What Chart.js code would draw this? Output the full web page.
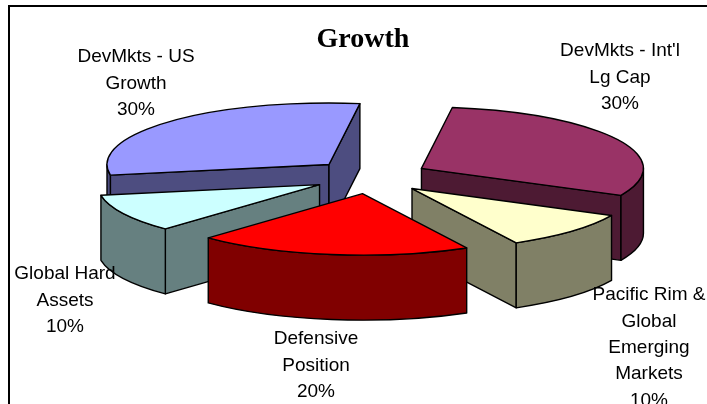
<!DOCTYPE html>
<html>
<head>
<meta charset="utf-8">
<title>Growth</title>
<script src="https://cdn.jsdelivr.net/npm/chart.js@4"></script>
<style>
    html, body { margin: 0; padding: 0; background: #fff; overflow: hidden; width: 707px; height: 404px; }
    #frame { position: absolute; left: 8px; top: 5px; width: 800px; height: 500px; border: 2px solid #000; }
    #growthChart { display: block; }
</style>
</head>
<body>
<div id="frame"><canvas id="growthChart" width="706" height="397"></canvas></div>
<script>
const categories = ["DevMkts - Int'l Lg Cap", "Pacific Rim & Global Emerging Markets", "Defensive Position", "Global Hard Assets", "DevMkts - US Growth"];
const labelLines = [
    ["DevMkts - Int'l", "Lg Cap"],
    ["Pacific Rim &", "Global", "Emerging", "Markets"],
    ["Defensive", "Position"],
    ["Global Hard", "Assets"],
    ["DevMkts - US", "Growth"]
];
const values = [30, 10, 20, 10, 30];
const topColors = ["#993366", "#ffffcc", "#ff0000", "#ccffff", "#9999ff"];
const wallColors = ["#4d1a33", "#808066", "#800000", "#668080", "#4d4d80"];

// label spots, canvas px (centre x, middle of first line)
const labelSpots = [[610, 44], [639, 288], [306, 332], [55, 267], [126, 50]];
const lineGap = 26.4;

// fake 3d look
const pieCx = 360.5, pieCy = 169.5;
const squash = 0.277, explodeSquash = 0.3, depth = 65;

function drawSlice(ctx, arc, wall) {
    const a0 = arc.startAngle, a1 = arc.endAngle, r = arc.outerRadius;
    const ry = r * squash;
    const mid = (a0 + a1) / 2;
    const x = pieCx + Math.cos(mid) * arc.options.offset;
    const y = pieCy + Math.sin(mid) * arc.options.offset * explodeSquash;

    ctx.lineWidth = 1.4;
    ctx.lineJoin = "round";
    ctx.strokeStyle = "#000";

    // flat side walls, only the ones facing us
    [a0, a1].forEach(function (a, i) {
        const facing = i === 0 ? -Math.cos(a) > 0 : Math.cos(a) > 0;
        if (!facing) return;
        const ex = x + Math.cos(a) * r, ey = y + Math.sin(a) * ry;
        ctx.beginPath();
        ctx.moveTo(x, y);
        ctx.lineTo(ex, ey);
        ctx.lineTo(ex, ey + depth);
        ctx.lineTo(x, y + depth);
        ctx.closePath();
        ctx.fillStyle = wall;
        ctx.fill();
        ctx.stroke();
    });

    // round wall, front half of the ellipse only
    const from = Math.max(a0, 0), to = Math.min(a1, Math.PI);
    if (to > from) {
        ctx.beginPath();
        ctx.ellipse(x, y, r, ry, 0, from, to);
        ctx.ellipse(x, y + depth, r, ry, 0, to, from, true);
        ctx.closePath();
        ctx.fillStyle = wall;
        ctx.fill();
        ctx.stroke();
    }

    // top face
    ctx.beginPath();
    ctx.moveTo(x, y);
    ctx.ellipse(x, y, r, ry, 0, a0, a1);
    ctx.closePath();
    ctx.fillStyle = arc.options.backgroundColor;
    ctx.fill();
    ctx.stroke();
}

const pie3d = {
    id: "pie3d",
    beforeDatasetDraw: function (chart, args) {
        const ctx = chart.ctx;
        const arcs = args.meta.data.map(function (arc, i) { return { arc: arc, i: i }; });
        // far slices first
        arcs.sort(function (p, q) {
            const my = function (s) { return Math.sin((s.arc.startAngle + s.arc.endAngle) / 2); };
            return my(p) - my(q);
        });
        ctx.save();
        arcs.forEach(function (s) { drawSlice(ctx, s.arc, wallColors[s.i]); });
        ctx.restore();
        return false;
    },
    afterDatasetsDraw: function (chart) {
        const ctx = chart.ctx;
        ctx.save();
        ctx.font = "19px 'Liberation Sans'";
        ctx.fillStyle = "#000";
        ctx.textAlign = "center";
        ctx.textBaseline = "middle";
        labelLines.forEach(function (lines, i) {
            const all = lines.concat(values[i] + "%");
            all.forEach(function (line, n) {
                ctx.fillText(line, labelSpots[i][0], labelSpots[i][1] + n * lineGap);
            });
        });
        ctx.restore();
    }
};

new Chart(document.getElementById("growthChart"), {
    type: "pie",
    data: {
        labels: categories,
        datasets: [{
            data: values,
            backgroundColor: topColors,
            offset: 57.7
        }]
    },
    options: {
        responsive: false,
        animation: false,
        rotation: 8,
        radius: 222,
        events: [],
        plugins: {
            legend: { display: false },
            tooltip: { enabled: false },
            title: {
                display: true,
                text: "Growth",
                color: "#000",
                font: { family: "'Liberation Serif'", size: 28, weight: "bold" },
                padding: { top: 16, bottom: 0 }
            }
        }
    },
    plugins: [pie3d]
});
</script>
</body>
</html>
